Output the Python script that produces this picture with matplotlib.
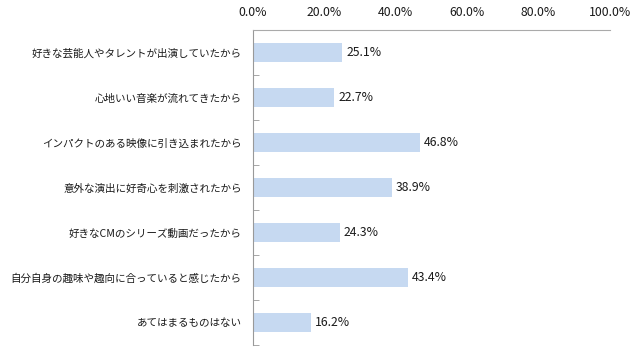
import matplotlib
matplotlib.use("Agg")
import matplotlib.pyplot as plt
import numpy as np

plt.rcParams['font.family'] = ['Noto Sans CJK JP', 'DejaVu Sans']

categories = [
    "好きな芸能人やタレントが出演していたから",
    "心地いい音楽が流れてきたから",
    "インパクトのある映像に引き込まれたから",
    "意外な演出に好奇心を刺激されたから",
    "好きなCMのシリーズ動画だったから",
    "自分自身の趣味や趣向に合っていると感じたから",
    "あてはまるものはない",
]
values = [25.1, 22.7, 46.8, 38.9, 24.3, 43.4, 16.2]
xticks = [0, 20, 40, 60, 80, 100]

fig = plt.figure(figsize=(6.4, 3.52), dpi=100)
ax = fig.add_axes([0.395, 0.02, 0.558, 0.895])

y = np.arange(len(categories))
ax.barh(y, values, height=0.44, color='#c6d9f1', edgecolor='none')
ax.set_ylim(len(categories) - 0.5, -0.5)
ax.set_xlim(0, 100)

for yi, v in zip(y, values):
    ax.text(v + 1.2, yi, f"{v:.1f}%", va='center', ha='left', fontsize=8.8, color='#1a1a1a')

ax.xaxis.tick_top()
ax.set_xticks(xticks)
ax.set_xticklabels([f"{t:.1f}%" for t in xticks], fontsize=8.8, color='#1a1a1a')
ax.tick_params(axis='x', length=0, pad=8)

ax.set_yticks(y)
ax.set_yticklabels(categories, fontsize=7.6, color='#1a1a1a')
ax.tick_params(axis='y', which='major', length=0, pad=8)
ax.set_yticks(np.arange(-0.5, len(categories) + 0.5, 1), minor=True)
ax.tick_params(axis='y', which='minor', length=4, direction='in', color='#999999')

for s in ['right', 'bottom']:
    ax.spines[s].set_visible(False)
ax.spines['left'].set_color('#999999')
ax.spines['top'].set_color('#aaaaaa')
ax.spines['left'].set_linewidth(0.8)
ax.spines['top'].set_linewidth(0.8)

fig.savefig("out.png", dpi=100)
